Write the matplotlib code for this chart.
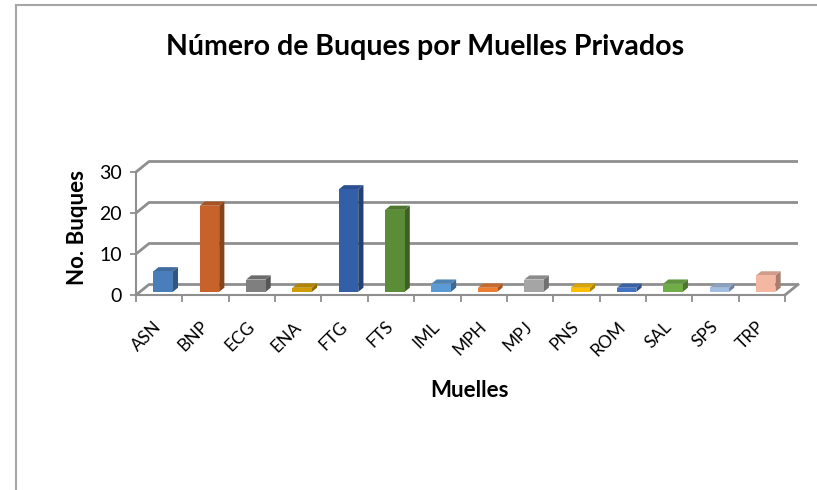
import matplotlib
matplotlib.use('Agg')
import matplotlib.pyplot as plt
import numpy as np
from matplotlib.patches import Polygon
from matplotlib.lines import Line2D
from matplotlib.colors import to_rgb

# data
muelles = ['ASN', 'BNP', 'ECG', 'ENA', 'FTG', 'FTS', 'IML', 'MPH', 'MPJ',
           'PNS', 'ROM', 'SAL', 'SPS', 'TRP']
buques = [5, 21, 3, 1, 25, 20, 2, 1, 3, 1, 1, 2, 1, 4]
colores = ['#4a7ebb', '#c6622a', '#7f7f7f', '#d09d00', '#335ea8', '#5b8c37',
           '#5b9bd5', '#ed7d31', '#a5a5a5', '#ffc000', '#4472c4', '#70ad47',
           '#a2bfe3', '#f4b8a2']
yticks = [0, 10, 20, 30]

plt.rcParams['font.family'] = ['Lato', 'DejaVu Sans']

W, H = 817, 490
fig = plt.figure(figsize=(W / 100, H / 100), dpi=100)

# pixel geometry of the plot floor (front-left corner, scales)
x0_px, y0_px = 136.0, 295.0
sx = (785.0 - 136.0) / len(muelles)   # px per category
sy = (295.0 - 172.0) / 30.0           # px per unit
xlim = (-0.1, len(muelles) + 0.5)
ylim = (-1.0, 34.0)
left = x0_px + xlim[0] * sx
bottom = y0_px - ylim[0] * sy
ax = fig.add_axes([left / W, (H - bottom) / H,
                   (xlim[1] - xlim[0]) * sx / W, (ylim[1] - ylim[0]) * sy / H])
ax.set_xlim(*xlim)
ax.set_ylim(*ylim)
ax.patch.set_visible(False)

# depth of the 3d box in data units
DX = 13.0 / sx
DY = 10.5 / sy
grid_c = '#8f8f8f'
n = len(muelles)

for v in yticks:
    ax.plot([0, DX, n + DX], [v, v + DY, v + DY], color=grid_c, lw=2.0,
            solid_capstyle='butt', zorder=1, clip_on=False)
ax.plot([n, n + DX], [0, DY], color=grid_c, lw=2.0, zorder=1, clip_on=False)


def shade(c, f):
    r, g, b = to_rgb(c)
    return (r * f, g * f, b * f)


# bars as little boxes
bw = 0.42
f0 = 0.3           # depth fraction of bar front
bd = 0.4           # depth fraction of the bar
for i, (v, c) in enumerate(zip(buques, colores)):
    xl = i + 0.5 - bw / 2 + f0 * DX
    yb = f0 * DY
    ddx, ddy = bd * DX, bd * DY
    front = Polygon([(xl, yb), (xl + bw, yb), (xl + bw, yb + v), (xl, yb + v)],
                    closed=True, fc=c, ec='none', zorder=3, clip_on=False)
    side = Polygon([(xl + bw, yb), (xl + bw + ddx, yb + ddy),
                    (xl + bw + ddx, yb + v + ddy), (xl + bw, yb + v)],
                   closed=True, fc=shade(c, 0.68), ec='none', zorder=3, clip_on=False)
    top = Polygon([(xl, yb + v), (xl + bw, yb + v), (xl + bw + ddx, yb + v + ddy),
                   (xl + ddx, yb + v + ddy)],
                  closed=True, fc=shade(c, 0.85), ec='none', zorder=3, clip_on=False)
    ax.add_patch(side)
    ax.add_patch(top)
    ax.add_patch(front)

# axes
for s in ['top', 'right']:
    ax.spines[s].set_visible(False)
ax.spines['left'].set_position(('data', 0))
ax.spines['left'].set_bounds(0, 30)
ax.spines['bottom'].set_position(('data', 0))
ax.spines['bottom'].set_bounds(0, n)
for s in ['left', 'bottom']:
    ax.spines[s].set_color(grid_c)
    ax.spines[s].set_linewidth(1.5)
    ax.spines[s].set_zorder(2)

ax.set_yticks(yticks)
ax.set_yticklabels([str(t) for t in yticks], fontsize=14)
ax.tick_params(axis='y', length=4, width=1.3, color=grid_c, pad=6)

ax.set_xticks(np.arange(n) + 0.5)
ax.set_xticks(np.arange(n + 1), minor=True)
ax.set_xticklabels(muelles, rotation=45, ha='right', va='center',
                   rotation_mode='anchor', fontsize=12.5)
ax.tick_params(axis='x', which='major', length=0, pad=21)
ax.tick_params(axis='x', which='minor', length=5, width=1.3, color=grid_c)

ax.set_xlabel('Muelles', fontsize=16, fontweight='bold', labelpad=15)
ax.set_ylabel('No. Buques', fontsize=16, fontweight='bold', labelpad=8)

fig.text(425 / W, 1 - 47 / H, 'Número de Buques por Muelles Privados',
         ha='center', va='center', fontsize=20.5, fontweight='bold')

# chart area border (left and top)
fig.add_artist(Line2D([15.5 / W, 15.5 / W], [0, 1 - 5 / H], color='#a6a6a6', lw=1.5))
fig.add_artist(Line2D([15.5 / W, 1], [1 - 5 / H, 1 - 5 / H], color='#a6a6a6', lw=1.5))

fig.savefig('out.png', dpi=100)
